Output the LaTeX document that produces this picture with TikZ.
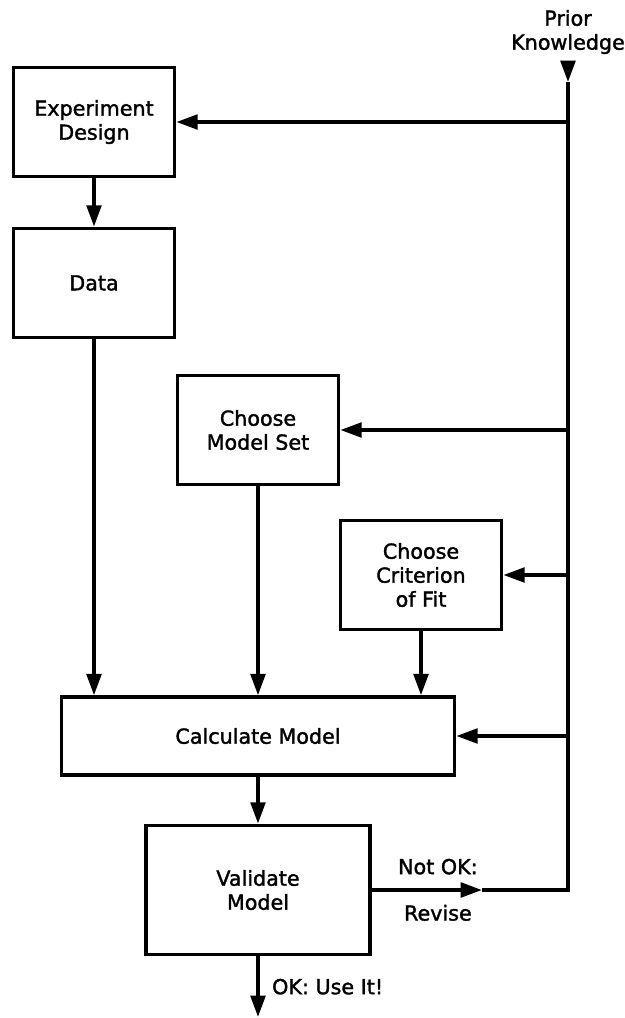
\documentclass[tikz,border=0pt]{standalone}
\usepackage{fontspec}
\setmainfont{DejaVu Sans}[AutoFakeBold=1.6]
\usetikzlibrary{arrows.meta, positioning}

\begin{document}
\begin{tikzpicture}[x=0.75pt, y=-0.75pt,
    block/.style={rectangle, draw, line width=2.6pt, align=center, minimum width=121pt, minimum height=82pt, font=\fontsize{15.5}{18}\selectfont\bfseries},
    note/.style={align=center, font=\fontsize{15.5}{18}\selectfont\bfseries},
    arrow/.style={-{Triangle[length=16pt, width=11pt]}, line width=2.6pt},
    wire/.style={line width=2.6pt}]
    \useasboundingbox (0,0) rectangle (625,1018);

    % Nodes
    \node [note] (prior) at (568,32) {Prior\\Knowledge};
    \node [block] (design) at (94,122) {Experiment\\Design};
    \node [block] (data) at (94,283) {Data};
    \node [block] (modelset) at (258,430) {Choose\\Model Set};
    \node [block] (criterion) at (421,575) {Choose\\Criterion\\of Fit};
    \node [block, minimum width=295pt, minimum height=58.5pt] (calc) at (258,736) {Calculate Model};
    \node [block, minimum width=168pt, minimum height=97pt] (validate) at (258,890) {Validate\\Model};

    % Coordinates for the feedback line
    \coordinate (feed) at (568,82);
    \coordinate (corner) at (568,890);
    \coordinate (revise) at (482,890);
    \coordinate (out) at (258,1017);

    % Arrows
    \draw [arrow, shorten <=3pt] (prior) -- (feed);
    \draw [arrow] (design) -- (data);
    \draw [arrow] (data) -- (data |- calc.north);
    \draw [arrow] (modelset) -- (modelset |- calc.north);
    \draw [arrow] (criterion) -- (criterion |- calc.north);
    \draw [arrow] (calc) -- (validate);
    \draw [arrow] (validate) -- node[note, right=6pt] {OK: Use It!} (out);

    % Revise loop back to prior knowledge
    \draw [arrow] (validate.east) -- node[note, pos=0.6, above=7pt] {Not OK:} node[note, pos=0.6, below=6.5pt] {Revise} (revise);
    \draw [wire] (revise) -- (corner) -- (feed);
    \draw [arrow] (design.east -| feed) -- (design.east);
    \draw [arrow] (modelset.east -| feed) -- (modelset.east);
    \draw [arrow] (criterion.east -| feed) -- (criterion.east);
    \draw [arrow] (calc.east -| feed) -- (calc.east);

\end{tikzpicture}
\end{document}
